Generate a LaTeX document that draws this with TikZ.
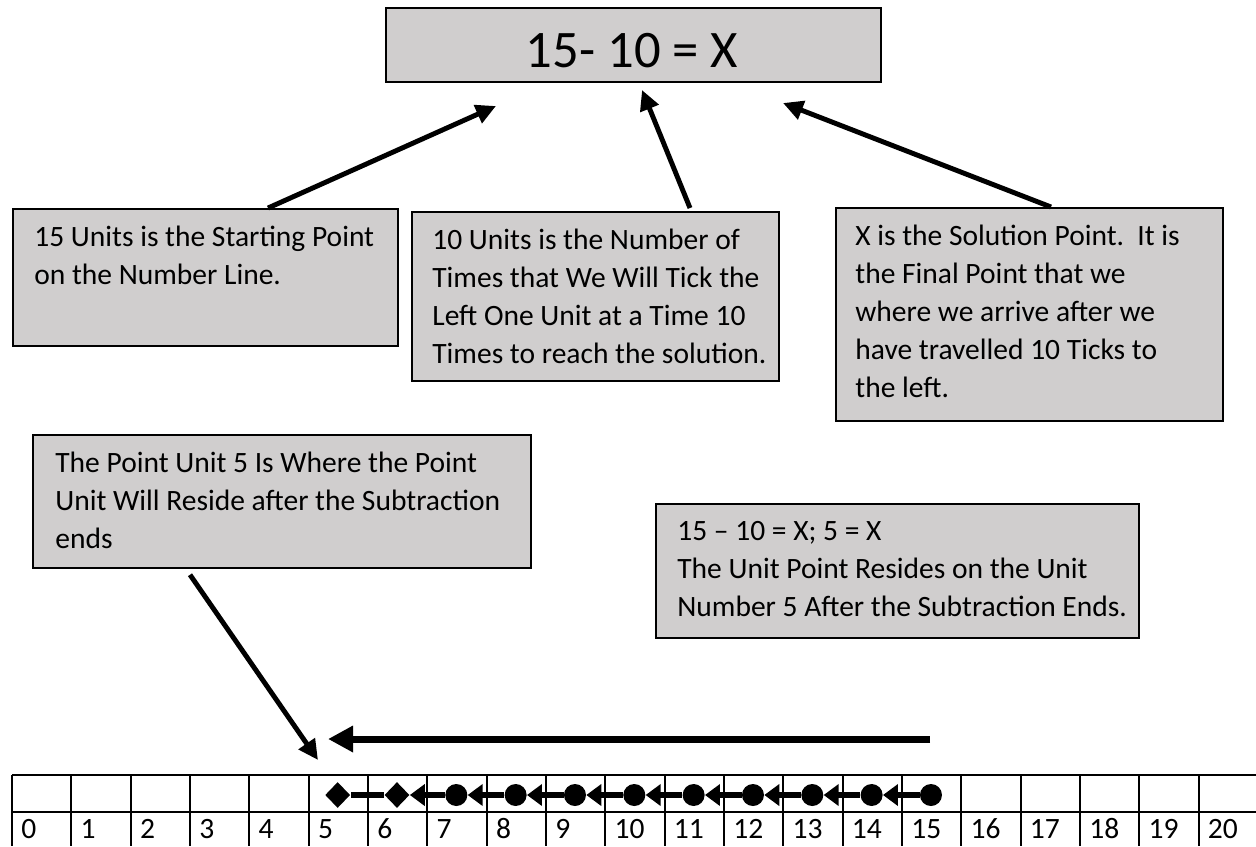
\documentclass[tikz,border=0pt]{standalone}
\usepackage{fontspec}
\setmainfont{Carlito}
\usetikzlibrary{arrows.meta,shapes.geometric,calc}
\definecolor{boxgray}{RGB}{208,206,206}
\begin{document}
\begin{tikzpicture}[x=0.02cm,y=-0.02cm,
		font=\fontsize{16.8}{21.6}\selectfont,
		box/.style={draw, fill=boxgray, line width=1pt, inner sep=0pt, anchor=north west},
		txt/.style={anchor=north west, inner sep=0pt, align=left},
		callout/.style={line width=2.8pt, -{Triangle[length=0.4cm,width=0.38cm]}},
		run/.style={line width=4pt, -{Triangle[length=0.5cm,width=0.5cm]}},
		grid/.style={line width=1pt},
		dot/.style={circle, fill, inner sep=0pt, minimum size=0.44cm},
		gem/.style={diamond, fill, inner sep=0pt, minimum width=0.5cm, minimum height=0.52cm},
		hop/.style={line width=3pt, -{Triangle[length=0.3cm,width=0.42cm]}},
	]
	\def\u{0.02cm}
	\def\cw{59.33}
	\useasboundingbox (0,0) rectangle (1256,846);

	% question
	\node[box, minimum width={495*\u}, minimum height={74*\u}] (sum) at (385,7) {};
	\node[font=\fontsize{30}{36}\selectfont] (sumtext) at (632,51) {15- 10 = X};

	% notes
	\node[box, minimum width={385*\u}, minimum height={137*\u}] (start) at (12,208) {};
	\node[txt] (starttext) at ($(start.north west)+(22,18)$)
		{15 Units is the Starting Point\\on the Number Line.};

	\node[box, minimum width={367*\u}, minimum height={169*\u}] (ticks) at (411,211) {};
	\node[txt] (tickstext) at ($(ticks.north west)+(21,18)$)
		{10 Units is the Number of\\Times that We Will Tick the\\Left One Unit at a Time 10\\Times to reach the solution.};

	\node[box, minimum width={387*\u}, minimum height={213*\u}] (sol) at (835,207) {};
	\node[txt] (soltext) at ($(sol.north west)+(20,18)$)
		{X is the Solution Point.\ \ It is\\the Final Point that we\\where we arrive after we\\have travelled 10 Ticks to\\the left.};

	\node[box, minimum width={498*\u}, minimum height={133*\u}] (rest) at (32,434) {};
	\node[txt] (resttext) at ($(rest.north west)+(23,18)$)
		{The Point Unit 5 Is Where the Point\\Unit Will Reside after the Subtraction\\ends};

	\node[box, minimum width={483*\u}, minimum height={134*\u}] (ans) at (655,503) {};
	\node[txt] (anstext) at ($(ans.north west)+(22,18)$)
		{15 -- 10 = X; 5 = X\\The Unit Point Resides on the Unit\\Number 5 After the Subtraction Ends.};

	% arrows to the question
	\coordinate (tip1) at (496,106);
	\coordinate (tip2) at (642,90);
	\coordinate (tip3) at (783,103);
	\coordinate (tip4) at (318,760);
	\draw[callout] ($(start.north west)+(256,0)$) -- (tip1);
	\draw[callout] ($(ticks.north west)+(279,-3)$) -- (tip2);
	\draw[callout] ($(sol.north west)+(216,0)$) -- (tip3);
	\draw[callout] ($(rest.south west)+(158,6)$) -- (tip4);

	% number line
	\draw[grid] (12,775) -- (1256,775);
	\draw[grid] (12,812) -- (1256,812);
	\foreach \k in {0,...,21}
		\draw[grid] ({12+\cw*\k},775) -- ({12+\cw*\k},846);
	\foreach \k in {0,...,20}
		\node[anchor=base west, inner sep=0pt] (num\k) at ({12+\cw*\k+9},838) {\k};

	% ticks on the line
	\foreach \k in {5,6}
		\node[gem] (m\k) at ({41+\cw*\k},795) {};
	\foreach \k in {7,...,15}
		\node[dot] (m\k) at ({41+\cw*\k},795) {};
	\draw[line width=3pt] (m6) -- (m5);
	\foreach \k [count=\j from 6] in {7,...,15}
		\draw[hop] (m\k) -- (m\j);

	% direction
	\coordinate (runfrom) at (930,739);
	\coordinate (runto) at (328,739);
	\draw[run] (runfrom) -- (runto);
\end{tikzpicture}
\end{document}
